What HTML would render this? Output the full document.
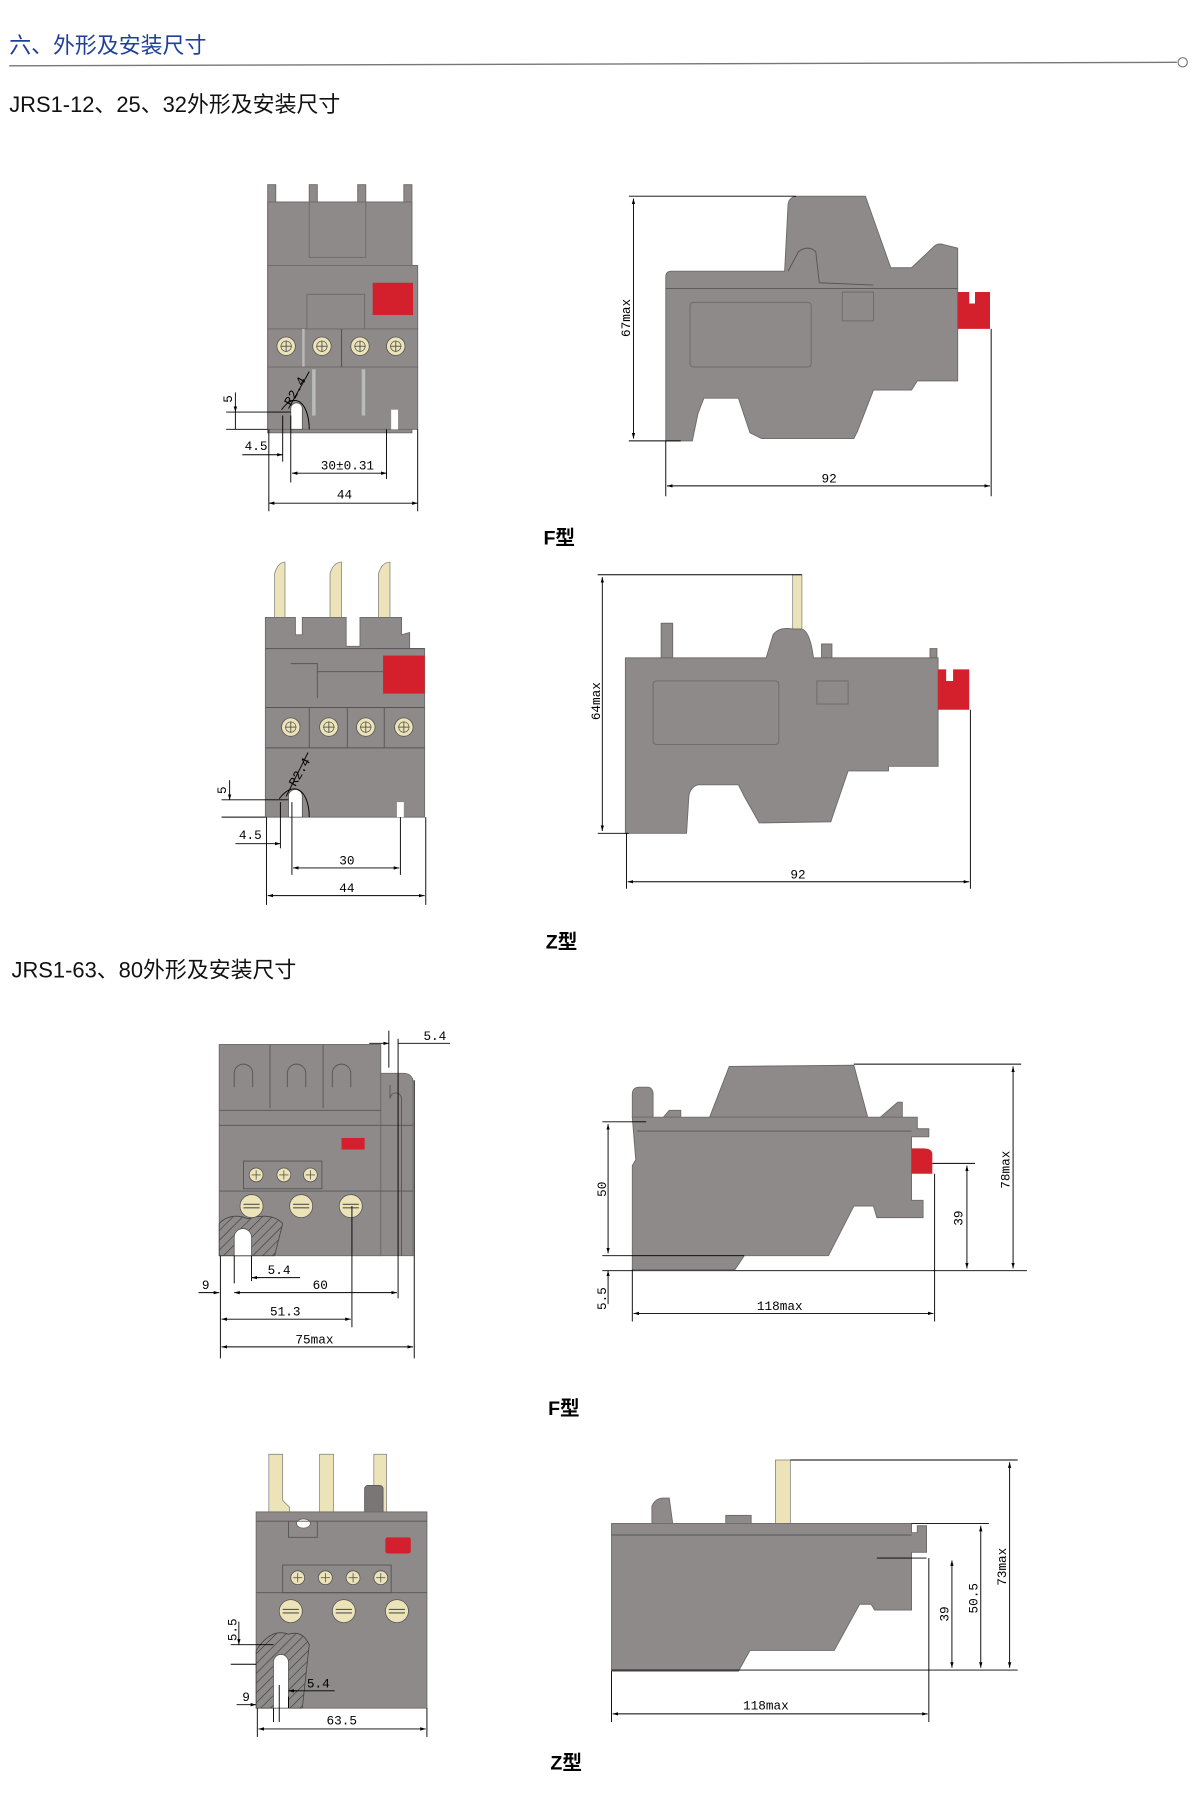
<!DOCTYPE html>
<html><head><meta charset="utf-8"><style>
html,body{margin:0;padding:0;background:#fff;}
svg{display:block;}
text{font-family:"Liberation Sans","Noto Sans CJK SC",sans-serif;}
.d{font-family:"Liberation Mono","DejaVu Sans Mono",monospace;font-size:11px;fill:#000;}
.g{fill:#8e8a8a;stroke:#6e6a6a;stroke-width:0.8;}
.l{stroke:#555;stroke-width:0.8;fill:none;}
.k{stroke:#000;stroke-width:0.8;fill:none;}
.r{fill:#d4202c;}
.c{fill:#ece3b8;stroke:#555;stroke-width:0.7;}
.p{fill:#ece3b8;stroke:#777;stroke-width:0.6;}
.t{font-size:17px;font-weight:bold;fill:#000;}
</style></head><body>
<svg width="1200" height="1812" viewBox="0 0 1040 1570" preserveAspectRatio="none" xmlns="http://www.w3.org/2000/svg">
<defs>
<marker id="a" viewBox="0 0 10 10" refX="10" refY="5" markerWidth="6" markerHeight="6" orient="auto-start-reverse"><path d="M0,2 L10,5 L0,8z" fill="#000"/></marker>
<pattern id="h" width="6" height="6" patternUnits="userSpaceOnUse" patternTransform="rotate(45)"><rect width="6" height="6" fill="#8e8a8a"/><line x1="0" y1="0" x2="0" y2="6" stroke="#333" stroke-width="1"/></pattern>
<g id="scr"><circle r="8" class="c"/><line x1="-5" y1="0" x2="5" y2="0" stroke="#555" stroke-width="0.8"/><line x1="0" y1="-5" x2="0" y2="5" stroke="#555" stroke-width="0.8"/><circle r="4.5" fill="none" stroke="#555" stroke-width="0.6"/></g>
<g id="scr2"><circle r="10" class="c"/><line x1="-7" y1="-1.5" x2="7" y2="-1.5" stroke="#555"/><line x1="-7" y1="1.5" x2="7" y2="1.5" stroke="#555"/></g>
<g id="scs"><circle r="6" class="c"/><line x1="-4" y1="0" x2="4" y2="0" stroke="#555" stroke-width="0.7"/><line x1="0" y1="-4" x2="0" y2="4" stroke="#555" stroke-width="0.7"/></g>
</defs>

<!-- header -->
<text x="8" y="46" font-size="19" fill="#1f3f9a" style="font-family:'Liberation Sans','Noto Sans CJK SC',sans-serif">六、外形及安装尺寸</text>
<line x1="8" y1="57" x2="1020" y2="54" stroke="#777" stroke-width="1.2"/>
<circle cx="1025" cy="54" r="4" fill="#fff" stroke="#777" stroke-width="1"/>
<text x="8" y="97" font-size="19" fill="#111">JRS1-12、25、32外形及安装尺寸</text>

<!-- ===== Drawing 1 front F ===== -->
<rect x="232" y="160" width="7" height="70" class="g"/>
<rect x="268" y="160" width="7" height="70" class="g"/>
<rect x="310" y="160" width="7" height="70" class="g"/>
<rect x="350" y="160" width="7" height="70" class="g"/>
<rect x="232" y="175" width="125" height="200" class="g"/>
<rect x="268" y="175" width="49" height="48" class="g"/>
<line x1="232" y1="230" x2="362" y2="230" class="l"/>
<rect x="232" y="230" width="130" height="55" class="g"/>
<rect x="266" y="255" width="50" height="30" class="g"/>
<rect x="323" y="245" width="35" height="28" class="r"/>
<rect x="232" y="285" width="130" height="33" class="g"/>
<line x1="263" y1="285" x2="263" y2="318" stroke="#bbb" stroke-width="2"/>
<line x1="296" y1="285" x2="296" y2="318" stroke="#555" stroke-width="1"/>
<use href="#scr" x="248" y="300"/><use href="#scr" x="279" y="300"/><use href="#scr" x="312" y="300"/><use href="#scr" x="343" y="300"/>
<rect x="232" y="318" width="130" height="54" class="g"/>
<line x1="272" y1="320" x2="272" y2="360" stroke="#bbb" stroke-width="3"/>
<line x1="315" y1="320" x2="315" y2="360" stroke="#bbb" stroke-width="3"/>
<rect x="339" y="355" width="6" height="17" fill="#fff"/>
<path d="M252,372 V354 a5,5 0 0 1 10,0 V372z" fill="#fff" stroke="#555" stroke-width="0.7"/>
<path d="M244,355 C256,338 268,350 268,372" class="k"/>
<line x1="250" y1="354" x2="268" y2="322" class="k"/>
<text class="d" transform="translate(252,352) rotate(-60)">R2.4</text>
<line x1="196" y1="357" x2="252" y2="357" class="k"/><line x1="196" y1="372" x2="232" y2="372" class="k"/>
<line x1="204" y1="340" x2="204" y2="357" class="k" marker-end="url(#a)"/><line x1="204" y1="372" x2="204" y2="357" class="k"/>
<text class="d" transform="translate(201,349) rotate(-90)">5</text>
<line x1="245" y1="360" x2="245" y2="400" class="k"/><line x1="252" y1="360" x2="252" y2="418" class="k"/>
<line x1="210" y1="394" x2="245" y2="394" class="k" marker-end="url(#a)"/>
<text class="d" x="212" y="390">4.5</text>
<line x1="335" y1="372" x2="335" y2="415" class="k"/>
<line x1="253" y1="410" x2="335" y2="410" class="k" marker-start="url(#a)" marker-end="url(#a)"/>
<text class="d" x="278" y="407">30±0.31</text>
<line x1="233" y1="372" x2="233" y2="443" class="k"/><line x1="362" y1="372" x2="362" y2="443" class="k"/>
<line x1="233" y1="436" x2="362" y2="436" class="k" marker-start="url(#a)" marker-end="url(#a)"/>
<text class="d" x="292" y="432">44</text>

<!-- ===== Drawing 1 side F ===== -->
<path class="g" d="M577,240 Q577,235 582,235 L680,235 L683,177 Q684,170 692,170 L750,170 L772,232 L790,232 L808,215 Q812,210 818,212 L830,215 L830,330 L795,330 L790,338 L757,338 L743,374 L740,380 L660,380 L650,375 L640,345 L610,345 L605,358 L600,382 L577,382z"/>
<line x1="577" y1="250" x2="830" y2="250" class="l"/>
<path d="M683,235 L692,218 Q700,212 707,218 L710,245 L757,247" class="l"/>
<rect x="598" y="262" width="105" height="56" rx="3" class="g"/>
<rect x="730" y="253" width="27" height="25" class="g"/>
<path class="r" d="M830,253 L840,253 L840,263 L845,263 L845,253 L858,253 L858,285 L830,285z"/>
<line x1="545" y1="170" x2="690" y2="170" class="k"/><line x1="545" y1="382" x2="590" y2="382" class="k"/>
<line x1="549" y1="172" x2="549" y2="380" class="k" marker-start="url(#a)" marker-end="url(#a)"/>
<text class="d" transform="translate(546,292) rotate(-90)">67max</text>
<line x1="577" y1="382" x2="577" y2="430" class="k"/><line x1="859" y1="285" x2="859" y2="430" class="k"/>
<line x1="578" y1="421" x2="858" y2="421" class="k" marker-start="url(#a)" marker-end="url(#a)"/>
<text class="d" x="712" y="418">92</text>
<text class="t" x="471" y="472">F型</text>

<!-- ===== Drawing 2 front Z ===== -->
<path class="p" d="M238,535 V497 Q241,487 247,487 V535z"/>
<path class="p" d="M286,535 V497 Q289,487 296,487 V535z"/>
<path class="p" d="M328,535 V497 Q331,487 338,487 V535z"/>
<path class="g" d="M230,535 L256,535 L256,550 L262,550 L262,535 L300,535 L300,560 L312,560 L312,535 L348,535 L348,550 L355,548 L355,562 L368,562 L368,708 L230,708z"/>
<line x1="230" y1="562" x2="368" y2="562" class="l"/>
<path d="M252,575 L275,575 L275,605 M275,582 L332,582" class="l"/>
<rect x="332" y="568" width="36" height="33" class="r"/>
<line x1="230" y1="613" x2="368" y2="613" class="l"/><line x1="230" y1="648" x2="368" y2="648" class="l"/>
<use href="#scr" x="252" y="630"/><use href="#scr" x="285" y="630"/><use href="#scr" x="317" y="630"/><use href="#scr" x="350" y="630"/>
<line x1="268" y1="613" x2="268" y2="648" class="l"/><line x1="301" y1="613" x2="301" y2="648" class="l"/><line x1="333" y1="613" x2="333" y2="648" class="l"/>
<rect x="344" y="695" width="6" height="13" fill="#fff"/>
<path d="M250,708 V690 a6,6 0 0 1 12,0 V708z" fill="#fff" stroke="#555" stroke-width="0.7"/>
<path d="M242,692 C255,675 268,685 268,708" class="k"/>
<line x1="248" y1="690" x2="267" y2="652" class="k"/>
<text class="d" transform="translate(256,682) rotate(-60)">R2.4</text>
<line x1="192" y1="693" x2="250" y2="693" class="k"/><line x1="192" y1="708" x2="230" y2="708" class="k"/>
<line x1="199" y1="676" x2="199" y2="693" class="k" marker-end="url(#a)"/>
<text class="d" transform="translate(196,688) rotate(-90)">5</text>
<line x1="243" y1="695" x2="243" y2="735" class="k"/><line x1="253" y1="695" x2="253" y2="758" class="k"/>
<line x1="204" y1="731" x2="243" y2="731" class="k" marker-end="url(#a)"/>
<text class="d" x="207" y="727">4.5</text>
<line x1="347" y1="708" x2="347" y2="758" class="k"/>
<line x1="254" y1="752" x2="346" y2="752" class="k" marker-start="url(#a)" marker-end="url(#a)"/>
<text class="d" x="294" y="749">30</text>
<line x1="231" y1="708" x2="231" y2="784" class="k"/><line x1="369" y1="708" x2="369" y2="784" class="k"/>
<line x1="232" y1="776" x2="368" y2="776" class="k" marker-start="url(#a)" marker-end="url(#a)"/>
<text class="d" x="294" y="773">44</text>

<!-- ===== Drawing 2 side Z ===== -->
<rect x="687" y="498" width="8" height="50" class="p"/>
<path class="g" d="M573,570 V540 L583,540 V570z"/>
<path class="g" d="M712,570 V558 L721,558 V570z"/>
<path class="g" d="M806,570 V562 L812,562 V570z"/>
<path class="g" d="M542,570 L664,570 L670,550 Q675,543 687,545 L695,545 Q702,547 705,570 L813,570 L813,664 L770,664 L770,668 L735,668 L720,712 L658,713 L645,690 L640,680 L605,680 Q598,682 597,690 L595,722 L542,722z"/>
<rect x="566" y="590" width="109" height="55" rx="3" class="g"/>
<rect x="708" y="590" width="27" height="20" class="g"/>
<path class="r" d="M813,580 L820,580 L820,590 L826,590 L826,580 L840,580 L840,615 L813,615z"/>
<line x1="518" y1="498" x2="695" y2="498" class="k"/><line x1="518" y1="722" x2="545" y2="722" class="k"/>
<line x1="522" y1="500" x2="522" y2="720" class="k" marker-start="url(#a)" marker-end="url(#a)"/>
<text class="d" transform="translate(520,624) rotate(-90)">64max</text>
<line x1="543" y1="722" x2="543" y2="770" class="k"/><line x1="841" y1="615" x2="841" y2="770" class="k"/>
<line x1="544" y1="764" x2="840" y2="764" class="k" marker-start="url(#a)" marker-end="url(#a)"/>
<text class="d" x="685" y="761">92</text>
<text class="t" x="473" y="822">Z型</text>

<text x="10" y="847" font-size="19" fill="#111">JRS1-63、80外形及安装尺寸</text>

<!-- ===== Drawing 3 front F big ===== -->
<rect x="190" y="905" width="140" height="183" class="g"/>
<path class="g" d="M330,930 L350,930 Q356,930 358,936 L358,1088 L330,1088z"/>
<path d="M338,940 V952 a5,5 0 0 1 10,0 V1088" fill="none" stroke="#555" stroke-width="0.8"/>
<line x1="234" y1="905" x2="234" y2="960" class="l"/><line x1="280" y1="905" x2="280" y2="960" class="l"/>
<path d="M203,942 V930 a8,8 0 0 1 16,0 V942 M249,942 V930 a8,8 0 0 1 16,0 V942 M288,942 V930 a8,8 0 0 1 16,0 V942" class="l"/>
<line x1="190" y1="962" x2="330" y2="962" class="l"/><line x1="190" y1="975" x2="358" y2="975" class="l"/>
<rect x="296" y="986" width="20" height="10" class="r"/>
<rect x="211" y="1006" width="68" height="24" fill="none" stroke="#555" stroke-width="0.8"/>
<use href="#scs" x="222" y="1018"/><use href="#scs" x="246" y="1018"/><use href="#scs" x="269" y="1018"/>
<line x1="190" y1="1032" x2="358" y2="1032" class="l"/>
<path fill="url(#h)" stroke="#444" stroke-width="0.7" d="M190,1088 L190,1060 Q200,1050 215,1056 Q235,1050 245,1060 L238,1088z"/>
<use href="#scr2" x="218" y="1045"/><use href="#scr2" x="261" y="1045"/><use href="#scr2" x="304" y="1045"/>
<path d="M203,1088 V1072 a7.5,7.5 0 0 1 15,0 V1088z" fill="#fff" stroke="#555" stroke-width="0.7"/>
<line x1="337" y1="893" x2="337" y2="925" class="k"/><line x1="345" y1="900" x2="345" y2="1125" class="k"/>
<line x1="320" y1="904" x2="337" y2="904" class="k" marker-end="url(#a)"/><line x1="345" y1="904" x2="390" y2="904" class="k"/>
<text class="d" x="367" y="901">5.4</text>
<line x1="203" y1="1088" x2="203" y2="1112" class="k"/><line x1="218" y1="1088" x2="218" y2="1110" class="k"/>
<line x1="218" y1="1107" x2="260" y2="1107" class="k"/><line x1="225" y1="1107" x2="218" y2="1107" class="k" marker-end="url(#a)"/>
<text class="d" x="232" y="1104">5.4</text>
<line x1="172" y1="1120" x2="190" y2="1120" class="k" marker-end="url(#a)"/>
<line x1="203" y1="1120" x2="344" y2="1120" class="k" marker-start="url(#a)" marker-end="url(#a)"/>
<text class="d" x="175" y="1117">9</text><text class="d" x="271" y="1117">60</text>
<line x1="305" y1="1045" x2="305" y2="1150" class="k"/>
<line x1="192" y1="1143" x2="304" y2="1143" class="k" marker-start="url(#a)" marker-end="url(#a)"/>
<text class="d" x="234" y="1140">51.3</text>
<line x1="191" y1="1088" x2="191" y2="1177" class="k"/><line x1="359" y1="936" x2="359" y2="1177" class="k"/>
<line x1="192" y1="1167" x2="358" y2="1167" class="k" marker-start="url(#a)" marker-end="url(#a)"/>
<text class="d" x="256" y="1164">75max</text>

<!-- ===== Drawing 3 side F big ===== -->
<path class="g" d="M548,948 Q548,942 554,942 L562,942 Q566,943 566,948 L566,968 L548,968z"/>
<path class="g" d="M575,968 L580,962 L590,962 L590,968z"/>
<path class="g" d="M763,968 L778,955 L782,955 L782,968z"/>
<path class="g" d="M615,968 L632,924 L740,923 L752,968z"/>
<path class="g" d="M548,968 L795,968 L795,978 L805,978 L805,985 L790,985 L790,1040 L800,1040 L800,1055 L760,1055 L757,1045 L740,1045 L718,1088 L645,1088 L637,1100 L548,1100 L548,1010 L551,1005z"/>
<line x1="552" y1="980" x2="790" y2="980" class="l"/>
<path class="r" d="M790,995 L800,995 Q808,995 808,1000 L808,1017 L790,1017z"/>
<line x1="522" y1="972" x2="560" y2="972" class="k"/><line x1="522" y1="1088" x2="645" y2="1088" class="k"/>
<line x1="522" y1="1101" x2="890" y2="1101" class="k"/>
<line x1="527" y1="974" x2="527" y2="1086" class="k" marker-start="url(#a)" marker-end="url(#a)"/>
<text class="d" transform="translate(525,1037) rotate(-90)">50</text>
<line x1="527" y1="1101" x2="527" y2="1130" class="k" marker-start="url(#a)"/>
<text class="d" transform="translate(525,1135) rotate(-90)">5.5</text>
<line x1="808" y1="1008" x2="845" y2="1008" class="k"/>
<line x1="838" y1="1010" x2="838" y2="1099" class="k" marker-start="url(#a)" marker-end="url(#a)"/>
<text class="d" transform="translate(834,1062) rotate(-90)">39</text>
<line x1="740" y1="922" x2="885" y2="922" class="k"/>
<line x1="878" y1="924" x2="878" y2="1099" class="k" marker-start="url(#a)" marker-end="url(#a)"/>
<text class="d" transform="translate(875,1030) rotate(-90)">78max</text>
<line x1="548" y1="1100" x2="548" y2="1145" class="k"/><line x1="810" y1="1017" x2="810" y2="1145" class="k"/>
<line x1="549" y1="1138" x2="809" y2="1138" class="k" marker-start="url(#a)" marker-end="url(#a)"/>
<text class="d" x="656" y="1135">118max</text>
<text class="t" x="475" y="1226">F型</text>

<!-- ===== Drawing 4 front Z big ===== -->
<path class="p" d="M233,1260 L245,1260 L245,1300 L251,1306 L251,1310 L233,1310z"/>
<rect x="277" y="1260" width="12" height="50" class="p"/>
<rect x="324" y="1260" width="11" height="50" class="p"/>
<rect x="316" y="1287" width="16" height="31" rx="3" fill="#7a7676" stroke="#555" stroke-width="0.7"/>
<rect x="222" y="1310" width="148" height="170" class="g"/>
<ellipse cx="263" cy="1320" rx="6" ry="4" fill="#fff" stroke="#555" stroke-width="0.6"/>
<line x1="222" y1="1318" x2="370" y2="1318" class="l"/>
<path d="M250,1318 V1332 H275 V1318" class="l"/>
<rect x="334" y="1332" width="22" height="14" rx="2" class="r"/>
<rect x="245" y="1356" width="94" height="24" fill="none" stroke="#555" stroke-width="0.8"/>
<use href="#scs" x="258" y="1367"/><use href="#scs" x="282" y="1367"/><use href="#scs" x="306" y="1367"/><use href="#scs" x="330" y="1367"/>
<line x1="222" y1="1380" x2="370" y2="1380" class="l"/>
<path fill="url(#h)" stroke="#444" stroke-width="0.7" d="M222,1480 L222,1430 Q235,1410 250,1416 Q262,1412 268,1425 L262,1480z"/>
<use href="#scr2" x="252" y="1396"/><use href="#scr2" x="298" y="1396"/><use href="#scr2" x="344" y="1396"/>
<path d="M237,1480 V1440 a6.5,6.5 0 0 1 13,0 V1480z" fill="#fff" stroke="#555" stroke-width="0.7"/>
<line x1="200" y1="1425" x2="237" y2="1425" class="k"/><line x1="200" y1="1442" x2="222" y2="1442" class="k"/>
<line x1="207" y1="1405" x2="207" y2="1425" class="k" marker-end="url(#a)"/>
<text class="d" transform="translate(205,1422) rotate(-90)">5.5</text>
<line x1="237" y1="1480" x2="237" y2="1492" class="k"/><line x1="242" y1="1460" x2="242" y2="1492" class="k"/>
<line x1="250" y1="1470" x2="250" y2="1480" class="k"/>
<line x1="250" y1="1465" x2="290" y2="1465" class="k"/><line x1="258" y1="1465" x2="250" y2="1465" class="k" marker-end="url(#a)"/>
<text class="d" x="266" y="1462">5.4</text>
<line x1="205" y1="1477" x2="222" y2="1477" class="k" marker-end="url(#a)"/>
<text class="d" x="210" y="1474">9</text>
<line x1="223" y1="1480" x2="223" y2="1505" class="k"/><line x1="370" y1="1480" x2="370" y2="1505" class="k"/>
<line x1="224" y1="1498" x2="369" y2="1498" class="k" marker-start="url(#a)" marker-end="url(#a)"/>
<text class="d" x="283" y="1494">63.5</text>

<!-- ===== Drawing 4 side Z big ===== -->
<rect x="672" y="1265" width="13" height="55" class="p"/>
<path class="g" d="M565,1320 L565,1305 Q568,1298 575,1298 L580,1298 L583,1320z"/>
<rect x="629" y="1313" width="22" height="7" class="g"/>
<path class="g" d="M530,1320 L790,1320 L790,1328 L795,1328 L795,1322 L803,1322 L803,1345 L790,1345 L790,1395 L758,1395 L755,1390 L745,1390 L723,1430 L650,1430 L640,1448 L530,1448z"/>
<line x1="530" y1="1330" x2="790" y2="1330" class="l"/>
<line x1="760" y1="1350" x2="803" y2="1350" class="k"/>
<line x1="685" y1="1265" x2="882" y2="1265" class="k"/>
<line x1="790" y1="1320" x2="857" y2="1320" class="k"/>
<line x1="530" y1="1447" x2="882" y2="1447" class="k"/>
<line x1="825" y1="1352" x2="825" y2="1445" class="k" marker-start="url(#a)" marker-end="url(#a)"/>
<text class="d" transform="translate(822,1405) rotate(-90)">39</text>
<line x1="850" y1="1322" x2="850" y2="1445" class="k" marker-start="url(#a)" marker-end="url(#a)"/>
<text class="d" transform="translate(847,1398) rotate(-90)">50.5</text>
<line x1="875" y1="1267" x2="875" y2="1445" class="k" marker-start="url(#a)" marker-end="url(#a)"/>
<text class="d" transform="translate(872,1374) rotate(-90)">73max</text>
<line x1="530" y1="1448" x2="530" y2="1492" class="k"/><line x1="805" y1="1350" x2="805" y2="1492" class="k"/>
<line x1="531" y1="1485" x2="804" y2="1485" class="k" marker-start="url(#a)" marker-end="url(#a)"/>
<text class="d" x="644" y="1481">118max</text>
<text class="t" x="477" y="1533">Z型</text>
</svg>
</body></html>
